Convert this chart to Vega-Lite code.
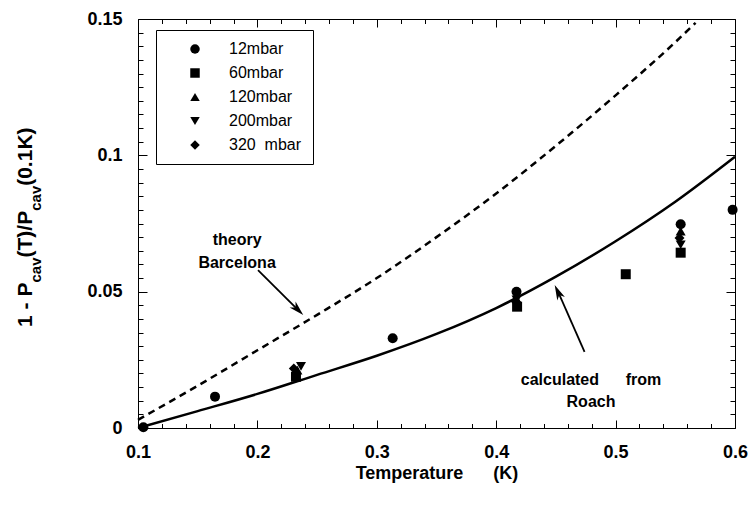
{
  "$schema": "https://vega.github.io/schema/vega-lite/v6.json",
  "width": 597,
  "height": 409,
  "autosize": {"type": "none"},
  "padding": {"left": 138, "top": 19, "right": 19, "bottom": 78},
  "background": "white",
  "config": {
    "view": {"stroke": null},
    "axis": {
      "grid": false,
      "tickColor": "black",
      "domainColor": "black",
      "labelColor": "black",
      "titleColor": "black",
      "labelFont": "Liberation Sans",
      "titleFont": "Liberation Sans",
      "labelFlush": false,
      "labelOverlap": false,
      "labelBound": false,
      "tickWidth": 1,
      "domainWidth": 1
    },
    "text": {"font": "Liberation Sans"}
  },
  "datasets": {
    "measured": [
      {"series": "12mbar", "T": 0.1045, "v": 0.0003},
      {"series": "12mbar", "T": 0.1645, "v": 0.0115},
      {"series": "12mbar", "T": 0.3133, "v": 0.0329},
      {"series": "12mbar", "T": 0.417, "v": 0.05},
      {"series": "12mbar", "T": 0.5545, "v": 0.0747},
      {"series": "12mbar", "T": 0.598, "v": 0.08},
      {"series": "60mbar", "T": 0.2323, "v": 0.0188},
      {"series": "60mbar", "T": 0.4175, "v": 0.0445},
      {"series": "60mbar", "T": 0.5085, "v": 0.0564},
      {"series": "60mbar", "T": 0.5545, "v": 0.0643},
      {"series": "120mbar", "T": 0.2335, "v": 0.0212},
      {"series": "120mbar", "T": 0.4165, "v": 0.0478},
      {"series": "120mbar", "T": 0.5545, "v": 0.0722},
      {"series": "200mbar", "T": 0.2365, "v": 0.0226},
      {"series": "200mbar", "T": 0.417, "v": 0.047},
      {"series": "200mbar", "T": 0.5545, "v": 0.0672},
      {"series": "320\u00a0\u00a0mbar", "T": 0.2305, "v": 0.0218},
      {"series": "320\u00a0\u00a0mbar", "T": 0.4165, "v": 0.0463},
      {"series": "320\u00a0\u00a0mbar", "T": 0.5535, "v": 0.0697}
    ],
    "roach": [
      {"T": 0.1, "v": 0.0},
      {"T": 0.15, "v": 0.0062},
      {"T": 0.2, "v": 0.0125},
      {"T": 0.25, "v": 0.0195},
      {"T": 0.3, "v": 0.0265},
      {"T": 0.35, "v": 0.0345},
      {"T": 0.4, "v": 0.044},
      {"T": 0.45, "v": 0.0555},
      {"T": 0.5, "v": 0.0685},
      {"T": 0.55, "v": 0.083},
      {"T": 0.6, "v": 0.0995}
    ],
    "barcelona": [
      {"T": 0.1, "v": 0.003},
      {"T": 0.15, "v": 0.0155},
      {"T": 0.2, "v": 0.0285},
      {"T": 0.25, "v": 0.0415},
      {"T": 0.3, "v": 0.055},
      {"T": 0.35, "v": 0.07},
      {"T": 0.4, "v": 0.086},
      {"T": 0.45, "v": 0.1035},
      {"T": 0.5, "v": 0.122},
      {"T": 0.55, "v": 0.1415},
      {"T": 0.567, "v": 0.1486}
    ],
    "notes": [
      {"note": "Barcelona", "label": "theory\nBarcelona", "T": 0.183, "v": 0.0688},
      {"note": "Roach", "label": "calculated\u00a0\u00a0\u00a0\u00a0\u00a0\u00a0from\nRoach", "T": 0.4794, "v": 0.0176}
    ],
    "arrows": [
      {"note": "Barcelona", "x1": 0.2005, "y1": 0.0579, "x2": 0.2325, "y2": 0.044, "tipX": 0.2384, "tipY": 0.0414},
      {"note": "Roach", "x1": 0.474, "y1": 0.0279, "x2": 0.4527, "y2": 0.0491, "tipX": 0.449, "tipY": 0.0524}
    ]
  },
  "resolve": {"axis": {"x": "independent", "y": "independent"}},
  "layer": [
    {
      "data": {"name": "roach"},
      "mark": {"type": "line", "color": "black", "strokeWidth": 2.5, "interpolate": "monotone"},
      "encoding": {
        "x": {
          "field": "T", "type": "quantitative",
          "scale": {"domain": [0.1, 0.6], "nice": false, "zero": false},
          "axis": {
            "orient": "bottom", "values": [0.1, 0.2, 0.3, 0.4, 0.5, 0.6], "format": ".1f",
            "tickSize": -8, "labelPadding": 23, "labelFontSize": 18, "labelFontWeight": "bold",
            "title": "Temperature\u00a0\u00a0\u00a0\u00a0\u00a0\u00a0(K)", "titleFontSize": 18, "titleFontWeight": "bold", "titlePadding": 3
          }
        },
        "y": {
          "field": "v", "type": "quantitative",
          "scale": {"domain": [0, 0.15], "nice": false, "zero": false},
          "axis": {
            "orient": "left", "values": [0, 0.05, 0.1, 0.15], "format": ".2~f",
            "tickSize": -9, "labelPadding": 25, "labelFontSize": 18, "labelFontWeight": "bold",
            "title": "1 - P", "titleFontSize": 21, "titleFontWeight": "bold", "titleAngle": -90,
            "titleAlign": "left", "titleBaseline": "alphabetic", "titleX": -107, "titleY": 307.4
          }
        }
      }
    },
    {
      "data": {"name": "barcelona"},
      "mark": {"type": "line", "color": "black", "strokeWidth": 2.5, "strokeDash": [7, 5], "interpolate": "monotone"},
      "encoding": {
        "x": {
          "field": "T", "type": "quantitative",
          "scale": {"domain": [0.1, 0.6], "nice": false, "zero": false},
          "axis": {
            "orient": "bottom",
            "values": [0.12, 0.14, 0.16, 0.18, 0.22, 0.24, 0.26, 0.28, 0.32, 0.34, 0.36, 0.38, 0.42, 0.44, 0.46, 0.48, 0.52, 0.54, 0.56, 0.58],
            "tickSize": -4.5, "labels": false, "domain": false, "title": null
          }
        },
        "y": {
          "field": "v", "type": "quantitative",
          "scale": {"domain": [0, 0.15], "nice": false, "zero": false},
          "axis": {
            "orient": "left",
            "values": [0.005, 0.01, 0.015, 0.02, 0.025, 0.03, 0.035, 0.04, 0.045, 0.055, 0.06, 0.065, 0.07, 0.075, 0.08, 0.085, 0.09, 0.095, 0.105, 0.11, 0.115, 0.12, 0.125, 0.13, 0.135, 0.14, 0.145],
            "tickSize": -5, "labels": false, "domain": false,
            "title": "cav", "titleFontSize": 15, "titleFontWeight": "bold", "titleAngle": -90,
            "titleAlign": "left", "titleBaseline": "alphabetic", "titleX": -98, "titleY": 263
          }
        }
      }
    },
    {
      "data": {"name": "measured"},
      "mark": {"type": "point", "filled": true, "size": 100, "opacity": 1, "color": "black"},
      "encoding": {
        "x": {
          "field": "T", "type": "quantitative",
          "scale": {"domain": [0.1, 0.6], "nice": false, "zero": false},
          "axis": {
            "orient": "top", "values": [0.1, 0.2, 0.3, 0.4, 0.5, 0.6],
            "tickSize": -8, "labels": false, "title": null
          }
        },
        "y": {
          "field": "v", "type": "quantitative",
          "scale": {"domain": [0, 0.15], "nice": false, "zero": false},
          "axis": {
            "orient": "right", "values": [0, 0.05, 0.1, 0.15],
            "tickSize": -9, "labels": false,
            "title": "(T)/P", "titleFontSize": 21, "titleFontWeight": "bold", "titleAngle": -90,
            "titleAlign": "left", "titleBaseline": "alphabetic", "titleX": -704, "titleY": 238
          }
        },
        "shape": {
          "field": "series", "type": "nominal",
          "scale": {
            "domain": ["12mbar", "60mbar", "120mbar", "200mbar", "320\u00a0\u00a0mbar"],
            "range": ["circle", "square", "triangle-up", "triangle-down", "diamond"]
          },
          "legend": {
            "title": null, "orient": "none", "legendX": 18, "legendY": 11,
            "strokeColor": "black", "fillColor": "white", "padding": 11,
            "symbolOffset": 20, "labelOffset": 26, "rowPadding": 8,
            "labelFont": "Liberation Sans", "labelFontSize": 16, "labelColor": "black",
            "symbolSize": 90, "symbolFillColor": "black", "symbolStrokeWidth": 0, "symbolOpacity": 1
          }
        }
      }
    },
    {
      "data": {"name": "notes"},
      "transform": [{"filter": "datum.note == 'Barcelona'"}],
      "mark": {"type": "text", "fontWeight": "bold", "fontSize": 16, "lineBreak": "\n", "lineHeight": 22.7, "align": "center", "baseline": "middle", "color": "black"},
      "encoding": {
        "text": {"field": "label"},
        "x": {
          "field": "T", "type": "quantitative",
          "scale": {"domain": [0.1, 0.6], "nice": false, "zero": false},
          "axis": {
            "orient": "top",
            "values": [0.12, 0.14, 0.16, 0.18, 0.22, 0.24, 0.26, 0.28, 0.32, 0.34, 0.36, 0.38, 0.42, 0.44, 0.46, 0.48, 0.52, 0.54, 0.56, 0.58],
            "tickSize": -4.5, "labels": false, "domain": false, "title": null
          }
        },
        "y": {
          "field": "v", "type": "quantitative",
          "scale": {"domain": [0, 0.15], "nice": false, "zero": false},
          "axis": {
            "orient": "right",
            "values": [0.005, 0.01, 0.015, 0.02, 0.025, 0.03, 0.035, 0.04, 0.045, 0.055, 0.06, 0.065, 0.07, 0.075, 0.08, 0.085, 0.09, 0.095, 0.105, 0.11, 0.115, 0.12, 0.125, 0.13, 0.135, 0.14, 0.145],
            "tickSize": -5, "labels": false, "domain": false,
            "title": "cav", "titleFontSize": 15, "titleFontWeight": "bold", "titleAngle": -90,
            "titleAlign": "left", "titleBaseline": "alphabetic", "titleX": -695, "titleY": 191.3
          }
        }
      }
    },
    {
      "data": {"name": "notes"},
      "transform": [{"filter": "datum.note == 'Roach'"}],
      "mark": {"type": "text", "fontWeight": "bold", "fontSize": 16, "lineBreak": "\n", "lineHeight": 22, "align": "center", "baseline": "middle", "color": "black"},
      "encoding": {
        "text": {"field": "label"},
        "x": {
          "field": "T", "type": "quantitative",
          "scale": {"domain": [0.1, 0.6], "nice": false, "zero": false},
          "axis": null
        },
        "y": {
          "field": "v", "type": "quantitative",
          "scale": {"domain": [0, 0.15], "nice": false, "zero": false},
          "axis": {
            "orient": "left", "ticks": false, "labels": false, "domain": false,
            "title": "(0.1K)", "titleFontSize": 21, "titleFontWeight": "bold", "titleAngle": -90,
            "titleAlign": "left", "titleBaseline": "alphabetic", "titleX": -107, "titleY": 166.3
          }
        }
      }
    },
    {
      "data": {"name": "arrows"},
      "mark": {"type": "rule", "color": "black", "strokeWidth": 1.8},
      "encoding": {
        "x": {"field": "x1", "type": "quantitative", "scale": {"domain": [0.1, 0.6], "nice": false, "zero": false}, "axis": null},
        "y": {"field": "y1", "type": "quantitative", "scale": {"domain": [0, 0.15], "nice": false, "zero": false}, "axis": null},
        "x2": {"field": "x2"},
        "y2": {"field": "y2"}
      }
    },
    {
      "data": {"name": "arrows"},
      "transform": [{"filter": "datum.note == 'Barcelona'"}],
      "mark": {"type": "point", "shape": "M0,0L0.5,1.8L0,1.3L-0.5,1.8Z", "filled": true, "opacity": 1, "color": "black", "size": 280, "angle": 135},
      "encoding": {
        "x": {"field": "tipX", "type": "quantitative", "scale": {"domain": [0.1, 0.6], "nice": false, "zero": false}, "axis": null},
        "y": {"field": "tipY", "type": "quantitative", "scale": {"domain": [0, 0.15], "nice": false, "zero": false}, "axis": null}
      }
    },
    {
      "data": {"name": "arrows"},
      "transform": [{"filter": "datum.note == 'Roach'"}],
      "mark": {"type": "point", "shape": "M0,0L0.5,1.8L0,1.3L-0.5,1.8Z", "filled": true, "opacity": 1, "color": "black", "size": 280, "angle": 335},
      "encoding": {
        "x": {"field": "tipX", "type": "quantitative", "scale": {"domain": [0.1, 0.6], "nice": false, "zero": false}, "axis": null},
        "y": {"field": "tipY", "type": "quantitative", "scale": {"domain": [0, 0.15], "nice": false, "zero": false}, "axis": null}
      }
    }
  ]
}
